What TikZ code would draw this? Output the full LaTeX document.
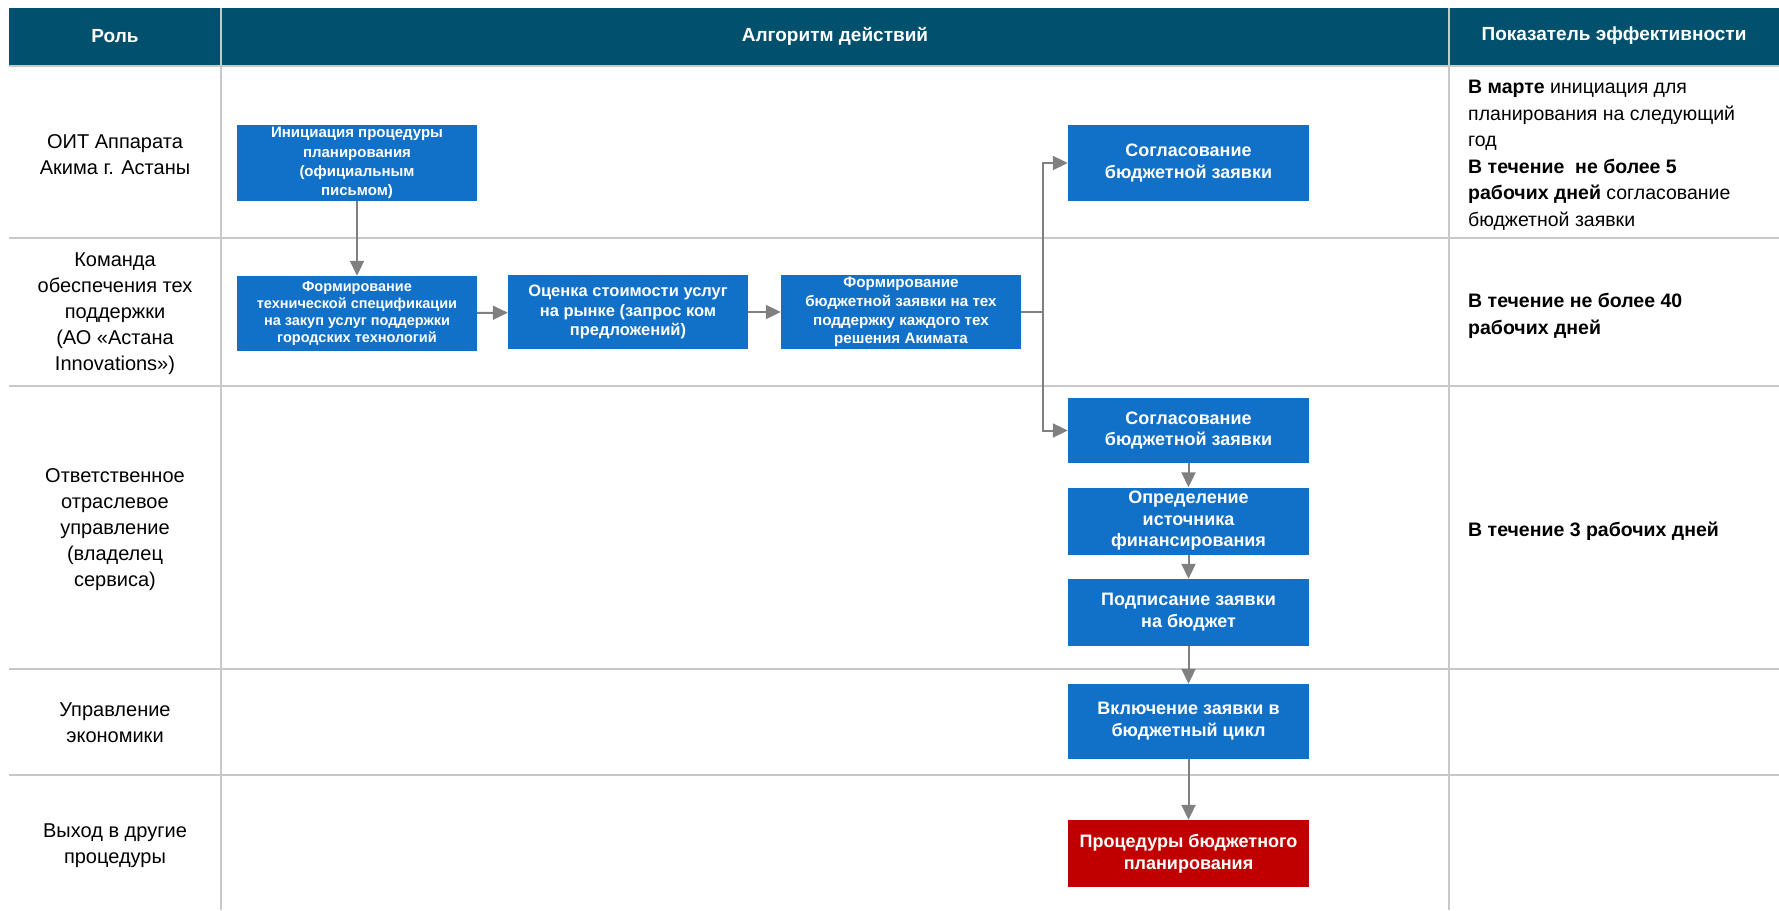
\documentclass[tikz,border=0pt]{standalone}
\usepackage{fontspec}
\setmainfont{Liberation Sans}
\usetikzlibrary{arrows.meta}
\definecolor{headblue}{HTML}{00506E}
\definecolor{boxblue}{HTML}{1170C7}
\definecolor{boxred}{HTML}{C00000}
\definecolor{gridgray}{HTML}{C8C8C8}
\definecolor{arrgray}{HTML}{808080}
\tikzset{
  box/.style={fill=boxblue, text=white, align=center, inner sep=0pt, minimum width=240pt, font=\bfseries},
  redbox/.style={box, fill=boxred},
  conn/.style={draw=arrgray, line width=2pt, -{Triangle[length=15pt,width=14pt]}},
  line/.style={draw=arrgray, line width=2pt},
  grid/.style={draw=gridgray, line width=1.5pt},
  head/.style={text=white, font=\fontsize{19}{23}\selectfont\bfseries},
  role/.style={align=center, font=\fontsize{20}{26}\selectfont},
  kpi/.style={anchor=west, align=left, inner sep=0pt, font=\fontsize{19.5}{26.5}\selectfont},
}
\begin{document}
\begin{tikzpicture}[x=1pt,y=-1pt]
\useasboundingbox (0,0) rectangle (1779,910);
% header
\fill[headblue] (9,8) rectangle (1779,65);
% grid
\draw[grid] (9,66) -- (1779,66);
\foreach \yy in {238,386,669,775} \draw[grid] (9,\yy) -- (1779,\yy);
\draw[grid] (221,8) -- (221,910);
\draw[grid] (1449,8) -- (1449,910);
% header texts
\node[head] (h1) at (115,36) {Роль};
\node[head] (h2) at (835,36) {Алгоритм действий};
\node[head] (h3) at (1614,36) {Показатель эффективности};
% roles
\node[role] (r1) at (115,155) {ОИТ Аппарата\\Акима г. Астаны};
\node[role] (r2) at (115,314) {Команда\\обеспечения тех\\поддержки\\(АО «Астана\\Innovations»)};
\node[role] (r3) at (115,530) {Ответственное\\отраслевое\\управление\\(владелец\\сервиса)};
\node[role] (r4) at (115,723) {Управление\\экономики};
\node[role] (r5) at (115,846) {Выход в другие\\процедуры};
% kpi
\node[kpi] (k1) at (1468,155) {\textbf{В марте} инициация для\\планирования на следующий\\год\\\textbf{В течение\ \ не более 5}\\\textbf{рабочих дней} согласование\\бюджетной заявки};
\node[kpi, font=\fontsize{19.5}{26.5}\selectfont\bfseries] (k2) at (1468,316) {В течение не более 40\\рабочих дней};
\node[kpi, font=\fontsize{19.5}{26.5}\selectfont\bfseries] (k3) at (1468,531) {В течение 3 рабочих дней};
% boxes
\node[box, minimum height=76pt, font=\fontsize{15}{19.2}\selectfont\bfseries] (init) at (357,163) {Инициация процедуры\\планирования\\(официальным\\письмом)};
\node[box, minimum width=241pt, minimum height=76pt, font=\fontsize{18}{21.5}\selectfont\bfseries] (s1) at (1188.5,163) {Согласование\\бюджетной заявки};
\node[box, minimum height=75pt, font=\fontsize{14.5}{17.2}\selectfont\bfseries] (f1) at (357,313.5) {Формирование\\технической спецификации\\на закуп услуг поддержки\\городских технологий};
\node[box, minimum height=74pt, font=\fontsize{16.5}{19.9}\selectfont\bfseries] (f2) at (628,312) {Оценка стоимости услуг\\на рынке (запрос ком\\предложений)};
\node[box, minimum height=74pt, font=\fontsize{15.2}{18.8}\selectfont\bfseries] (f3) at (901,312) {Формирование\\бюджетной заявки на тех\\поддержку каждого тех\\решения Акимата};
\node[box, minimum width=241pt, minimum height=65pt, font=\fontsize{18}{21.5}\selectfont\bfseries] (s2) at (1188.5,430.5) {Согласование\\бюджетной заявки};
\node[box, minimum width=241pt, minimum height=67pt, font=\fontsize{18}{21.5}\selectfont\bfseries] (d) at (1188.5,521) {Определение\\источника\\финансирования};
\node[box, minimum width=241pt, minimum height=67pt, font=\fontsize{18}{22}\selectfont\bfseries] (p) at (1188.5,612.5) {Подписание заявки\\на бюджет};
\node[box, minimum width=241pt, minimum height=75pt, font=\fontsize{18}{22}\selectfont\bfseries] (v) at (1188.5,721.5) {Включение заявки в\\бюджетный цикл};
\node[redbox, minimum width=241pt, minimum height=67pt, font=\fontsize{18}{22}\selectfont\bfseries] (rp) at (1188.5,853.5) {Процедуры бюджетного\\планирования};
% connectors
\coordinate (j) at (1043,312);
\draw[conn] (init) -- (f1);
\draw[conn] (f1) -- (f2);
\draw[conn] (f2) -- (f3);
\draw[line] (f3.east) -- (j);
\draw[conn] (j) |- (s1.west);
\draw[conn] (j) |- (s2.west);
\draw[conn] (s2) -- (d);
\draw[conn] (d) -- (p);
\draw[conn] (p) -- (v);
\draw[conn] (v) -- (rp);
\end{tikzpicture}
\end{document}
